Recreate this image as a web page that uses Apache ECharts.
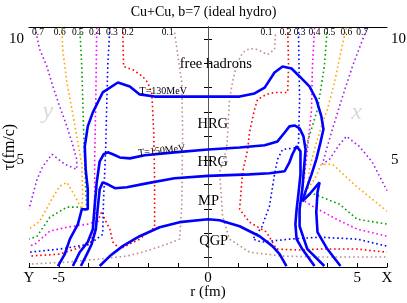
<!DOCTYPE html>
<html><head><meta charset="utf-8">
<script src="https://cdn.jsdelivr.net/npm/echarts@6/dist/echarts.min.js"></script>
<style>html,body{margin:0;padding:0;background:#fff}#c{width:407px;height:303px}</style>
</head><body><div id="c"></div>
<script>
// ---- data: [r (fm), tau (fm/c)] ----
const T130 = [[-5.03,0.64],[-4.80,1.13],[-4.63,1.75],[-4.36,2.37],[-4.23,2.98],[-4.03,2.98],[-4.03,3.81],[-4.10,4.63],[-4.13,5.58],[-4.03,6.40],[-3.86,6.98],[-3.53,7.80],[-3.02,8.21],[-2.62,8.05],[-2.29,7.72],[-1.79,7.63],[0,7.63],[1.06,7.63],[1.56,7.76],[1.90,8.00],[2.23,8.62],[2.50,8.87],[2.80,8.79],[3.07,8.46],[3.40,8.05],[3.63,7.51],[3.80,6.81],[3.87,6.28],[3.77,5.74],[3.63,5.04],[3.47,4.42],[3.27,3.72],[3.16,3.31],[3.40,3.60],[3.74,4.09],[3.80,4.01],[3.67,3.68],[3.63,2.86],[3.67,2.04],[4.00,1.34],[4.44,0.64]];
const T150 = [[-4.53,0.64],[-4.30,1.21],[-4.03,1.63],[-3.86,2.16],[-3.80,3.11],[-3.73,4.09],[-3.63,4.96],[-3.50,5.25],[-3.36,5.33],[-3.19,5.25],[-2.96,5.12],[-2.62,5.08],[-2.12,5.21],[-1.12,5.33],[0,5.45],[1.06,5.53],[1.90,5.62],[2.33,5.78],[2.57,6.15],[2.73,6.40],[2.90,6.44],[3.07,6.32],[3.20,5.99],[3.27,5.45],[3.23,4.84],[3.16,3.81],[3.07,2.98],[3.07,2.28],[3.33,1.34],[3.90,0.64]];
const hrgLower = [[-4.26,0.64],[-4.06,1.13],[-3.90,1.54],[-3.76,2.16],[-3.70,2.98],[-3.63,3.81],[-3.53,4.09],[-3.36,4.01],[-3.12,3.85],[-2.72,3.89],[-2.06,4.05],[-1.12,4.26],[0,4.36],[1.39,4.42],[2.06,4.47],[2.57,4.55],[2.73,4.92],[2.83,5.25],[2.97,5.58],[3.10,5.37],[3.10,4.42],[3.03,3.60],[2.97,2.98],[2.93,2.37],[2.97,1.75],[3.16,1.34],[3.57,0.64]];
const qgpEdge = [[-3.63,0.64],[-3.29,1.05],[-2.86,1.46],[-2.29,1.87],[-1.62,2.24],[-0.95,2.45],[0,2.57],[0.39,2.53],[1.06,2.28],[1.73,1.87],[2.16,1.46],[2.40,1.13],[2.63,0.64]];

const v01L = [[-1.12,10.27],[-0.88,8.21],[-0.85,6.15],[-0.88,3.11],[-0.95,1.75],[-1.38,1.54],[-2.19,1.21],[-2.72,1.05],[-3.63,0.93],[-4.73,0.80],[-6.0,0.72]];
const v01R = [[2.26,10.19],[2.23,9.57],[1.99,9.36],[1.66,9.57],[1.39,9.61],[1.16,9.44],[0.96,8.95],[0.82,8.21],[0.72,7.51],[0.66,6.15],[0.62,5.45],[0.39,4.51],[0.49,2.70],[0.72,1.75],[1.39,1.21],[2.50,1.05],[3.74,1.01],[5.00,1.01],[6.0,1.01]];
const v02L = [[-2.86,10.47],[-2.83,8.87],[-2.52,8.74],[-2.19,8.46],[-2.02,8.21],[-1.89,7.80],[-1.86,7.22],[-1.82,6.15],[-1.79,4.22],[-1.79,2.24],[-2.29,1.75],[-2.96,1.34],[-3.19,1.63],[-3.29,2.16],[-3.46,2.57],[-3.56,2.90],[-3.73,2.37],[-3.96,1.54],[-4.97,1.13],[-6.0,1.05]];
const v02R = [[2.67,10.47],[2.70,8.87],[2.67,7.80],[2.23,7.80],[1.96,7.72],[1.66,7.51],[1.56,7.10],[1.39,6.15],[1.33,5.45],[1.16,4.51],[1.06,2.98],[1.39,2.45],[1.96,2.04],[2.30,1.34],[3.07,1.30],[3.74,1.34],[5.00,1.34],[6.0,1.21]];
const v03L = [[-3.29,10.47],[-3.36,8.87],[-3.39,7.51],[-3.43,5.45],[-3.50,3.40],[-3.53,1.95],[-3.96,1.54],[-4.97,1.34],[-6.0,1.21]];
const v03R = [[3.03,10.47],[3.07,7.51],[3.03,5.53],[2.50,5.45],[2.33,5.04],[2.23,4.42],[2.06,3.11],[1.80,2.24],[1.50,1.75],[1.80,1.63],[2.73,1.75],[3.74,1.83],[5.00,1.75],[6.0,1.46]];
const v04L = [[-3.73,10.47],[-3.76,7.51],[-3.80,5.04],[-3.80,3.19],[-3.73,2.49],[-4.03,2.37],[-4.73,2.24],[-5.30,2.08],[-5.80,1.54],[-6.0,1.46]];
const v04R = [[3.57,10.47],[3.50,8.87],[3.47,7.10],[3.30,5.04],[3.13,3.40],[3.50,3.11],[4.31,2.57],[5.00,2.16],[6.0,1.87]];
const v05L = [[-4.30,10.47],[-4.23,8.87],[-4.16,5.86],[-4.10,3.81],[-4.06,2.90],[-4.30,3.07],[-4.73,3.07],[-5.30,2.65],[-5.73,1.87],[-6.0,1.75]];
const v05R = [[4.00,10.47],[3.90,8.87],[3.67,7.10],[3.33,5.74],[3.20,4.63],[3.16,3.60],[3.57,3.60],[4.41,3.19],[5.00,2.57],[6.0,2.37]];
const v06L = [[-4.90,10.47],[-4.87,9.57],[-4.73,8.21],[-4.56,7.10],[-4.40,5.99],[-4.23,4.84],[-4.20,3.60],[-4.23,2.98],[-4.46,3.52],[-4.73,4.09],[-4.97,3.93],[-5.20,3.48],[-5.64,2.49],[-6.0,2.16]];
const v06R = [[4.64,10.47],[4.47,9.57],[4.24,8.21],[4.00,7.10],[3.80,6.40],[3.57,5.45],[3.40,4.63],[3.33,3.81],[3.57,4.22],[3.80,4.84],[4.17,4.84],[4.97,3.93],[6.0,2.90]];
const v07L = [[-5.80,10.47],[-5.64,9.57],[-5.40,8.87],[-5.20,8.05],[-4.97,7.22],[-4.73,6.40],[-4.56,5.74],[-4.40,5.04],[-4.40,4.63],[-4.80,4.84],[-5.23,5.25],[-5.54,4.75],[-5.73,4.22],[-6.0,2.98]];
const v07R = [[5.31,10.39],[4.84,8.87],[4.51,7.63],[4.17,6.28],[3.97,5.45],[3.84,4.84],[4.07,5.04],[4.41,5.66],[4.64,5.99],[5.07,5.58],[5.51,4.92],[6.0,3.75]];

const levelNames = ['0.1','0.2','0.3','0.4','0.5','0.6','0.7'];
const levelLeftR = [-1.35,-2.69,-3.22,-3.79,-4.36,-4.97,-5.70];
const levelRightR = [1.96,2.60,3.07,3.57,4.07,4.64,5.17];
const levelLabelTau = 10.27;

const regionNames = ['free hadrons','HRG','HRG','MP','QGP'];
const regionR = [0.26,0.16,0.16,0.02,0.19];
const regionTau = [8.95,6.48,4.92,3.31,1.67];

const xTickLabels = {'-6':'Y','-5':'-5','0':'0','5':'5','6':'X'};
const yTickLabels = [5,10];

// ---- styles ----
const levelColors = ['#bc8f8f','#ff0000','#0000ff','#ff00ff','#00a000','#ffa500','#a020f0'];
const SERIF = 'Liberation Serif';

const chart = echarts.init(document.getElementById('c'), null, {renderer:'canvas'});
const series = [];
const leftSets = [v01L,v02L,v03L,v04L,v05L,v06L,v07L];
const rightSets = [v01R,v02R,v03R,v04R,v05R,v06R,v07R];
for (let i=0;i<7;i++){
  for (const d of [leftSets[i], rightSets[i]]) {
    series.push({type:'line', data:d, showSymbol:false, silent:true, z:2,
      lineStyle:{color:levelColors[i], width:1.6, type:[1.6,2.8]}});
  }
}
[T130,T150,hrgLower,qgpEdge].forEach(d=>{
  series.push({type:'line', data:d, showSymbol:false, silent:true, z:5,
    lineStyle:{color:'#0000ff', width:2.6}});
});
// center line
series[0].markLine = {silent:true, symbol:'none', label:{show:false},
  lineStyle:{color:'#555', width:1, type:'solid'}, data:[{xAxis:0}]};

// text annotations
const txt = [];
levelNames.forEach((n,i)=>{
  txt.push({name:n, value:[levelLeftR[i], levelLabelTau], label:{fontSize:9.5}});
  txt.push({name:n, value:[levelRightR[i], levelLabelTau], label:{fontSize:9.5}});
});
regionNames.forEach((n,i)=>{
  txt.push({name:n, value:[regionR[i], regionTau[i]], label:{fontSize:14.5}});
});
txt.push({name:'T=130MeV', value:[-1.5,7.85], label:{fontSize:10}});
txt.push({name:'T=150MeV', value:[-1.55,5.4], label:{fontSize:10, rotate:6}});
txt.push({name:'y', value:[-5.37,7.0], label:{fontSize:24, color:'#d8d8d8', fontStyle:'italic'}});
txt.push({name:'x', value:[4.98,6.98], label:{fontSize:24, color:'#d8d8d8', fontStyle:'italic'}});
series.push({type:'scatter', data:txt, symbolSize:0, silent:true, z:10,
  itemStyle:{color:'#000', opacity:1},
  label:{show:true, position:'inside', formatter:p=>p.name, color:'#000', opacity:1, fontFamily:SERIF,
    textBorderWidth:0, textBorderColor:'transparent', textShadowBlur:0}});

const ticks10 = [1,2,3,4,5,6,7,8,9,10];
chart.setOption({
  animation:false,
  title:{text:'Cu+Cu, b=7 (ideal hydro)', left:'center', top:0,
    textStyle:{fontFamily:SERIF, fontSize:14, fontWeight:'normal', color:'#000'}},
  grid:{left:29, right:20, top:27, bottom:36, containLabel:false, outerBoundsMode:'none'},
  xAxis:[{type:'value', min:-6, max:6, interval:1, position:'bottom',
    name:'r (fm)', nameLocation:'middle', nameGap:18, nameMoveOverlap:false,
    nameTextStyle:{fontFamily:SERIF, fontSize:15, color:'#000', verticalAlign:'top', padding:0},
    axisLine:{lineStyle:{color:'#000', width:1}},
    axisTick:{inside:true, length:4, lineStyle:{color:'#000'}},
    axisLabel:{fontFamily:SERIF, fontSize:15, color:'#000', margin:4,
      formatter:v=> (xTickLabels[String(v)]||''), showMinLabel:true, showMaxLabel:true},
    splitLine:{show:false}},
   {type:'value', min:-6, max:6, position:'top',
    axisLine:{lineStyle:{color:'#000', width:1}}, axisTick:{show:false}, axisLabel:{show:false}, splitLine:{show:false}}],
  yAxis:[{type:'value', min:0.6, max:10.5, position:'left',
    name:'τ(fm/c)', nameLocation:'middle', nameGap:11, nameMoveOverlap:false,
    nameTextStyle:{fontFamily:SERIF, fontSize:16, color:'#000'},
    axisLine:{lineStyle:{color:'#000', width:1}},
    axisTick:{inside:true, length:4, customValues:ticks10, lineStyle:{color:'#000'}},
    axisLabel:{fontFamily:SERIF, fontSize:15, color:'#000', margin:5, customValues:yTickLabels},
    splitLine:{show:false}},
   {type:'value', min:0.6, max:10.5, position:'right',
    axisLine:{lineStyle:{color:'#000', width:1}},
    axisTick:{inside:true, length:4, customValues:ticks10, lineStyle:{color:'#000'}},
    axisLabel:{fontFamily:SERIF, fontSize:15, color:'#000', margin:4, customValues:yTickLabels},
    splitLine:{show:false}}],
  series:series
});
</script></body></html>
